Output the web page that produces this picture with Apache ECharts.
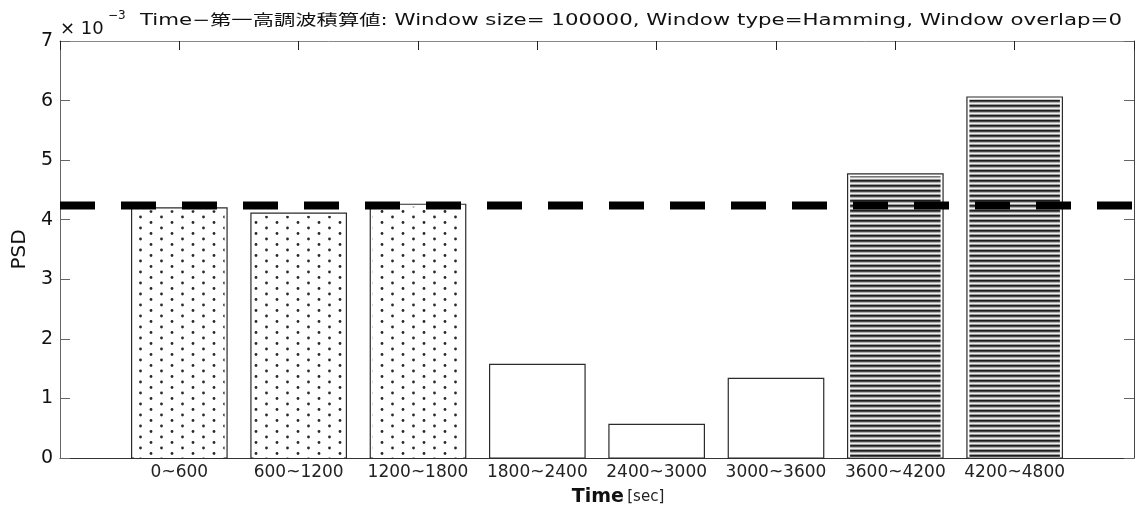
<!DOCTYPE html>
<html>
<head>
<meta charset="utf-8">
<title>PSD</title>
<script src="https://cdn.jsdelivr.net/npm/echarts@6/dist/echarts.min.js"></script>
<style>
  html, body { margin: 0; padding: 0; background: #fff; }
  #chart { width: 1137px; height: 505px; }
</style>
</head>
<body>
<div id="chart"></div>
<script>
// Time windows (seconds) and the first-harmonic PSD per window, in units of 1e-3
const categories = ['0~600', '600~1200', '1200~1800', '1800~2400', '2400~3000', '3000~3600', '3600~4200', '4200~4800'];
const psdValues = [4.20, 4.11, 4.26, 1.57, 0.565, 1.335, 4.77, 6.06];
const thresholdValue = 4.24;
const titleText = 'Time\u2212第一高調波積算値: Window size= 100000, Window type=Hamming, Window overlap=0';

// Fill textures for the bars
function makeDotPattern() {
  const c = document.createElement('canvas');
  c.width = 21; c.height = 11;
  const g = c.getContext('2d');
  g.fillStyle = '#fff';
  g.fillRect(0, 0, c.width, c.height);
  g.fillStyle = '#2a2a2a';
  g.beginPath(); g.arc(4, 2.5, 1.4, 0, Math.PI * 2); g.fill();
  g.beginPath(); g.arc(14.5, 8, 1.4, 0, Math.PI * 2); g.fill();
  return { image: c, repeat: 'repeat' };
}
function makeStripePattern() {
  const c = document.createElement('canvas');
  c.width = 4; c.height = 5;
  const g = c.getContext('2d');
  const rows = ['#1e1e1e', '#4a4a4a', '#b0b0b0', '#f0f0f0', '#9a9a9a'];
  rows.forEach((col, i) => { g.fillStyle = col; g.fillRect(0, i, c.width, 1); });
  return { image: c, repeat: 'repeat' };
}
const dotFill = makeDotPattern();
const stripeFill = makeStripePattern();
function fillFor(i) {
  if (i < 3) return dotFill;
  if (i >= 6) return stripeFill;
  return null;
}

const chart = echarts.init(document.getElementById('chart'));

const titleFont = '15px "DejaVu Sans", "Noto Sans CJK JP", sans-serif';
const meas = document.createElement('canvas').getContext('2d');
meas.font = titleFont;
const titleScale = 982 / meas.measureText(titleText).width;

const barData = psdValues.map((v, i) => [i + 1, v]);

function renderBar(params, api) {
  const x = api.value(0);
  const v = api.value(1);
  const top = api.coord([x, v]);
  const base = api.coord([x, 0]);
  const w = api.size([0.8, 0])[0];
  const left = top[0] - w / 2;
  const h = base[1] - top[1];
  const children = [{
    type: 'rect',
    shape: { x: left, y: top[1], width: w, height: h },
    style: { fill: '#fff', stroke: '#2b2b2b', lineWidth: 1.2 }
  }];
  const f = fillFor(params.dataIndex);
  if (f) {
    children.push({
      type: 'rect',
      shape: { x: left + 2.5, y: top[1] + 2.5, width: w - 5, height: h - 2.5 },
      style: { fill: f }
    });
  }
  return { type: 'group', children };
}

const labelFont = 'DejaVu Sans';

chart.setOption({
  animation: false,
  backgroundColor: '#fff',
  grid: { left: 60, top: 41, width: 1074, height: 417, containLabel: false, outerBoundsMode: 'none' },
  xAxis: [{
    type: 'value', position: 'bottom', min: 0, max: 9, interval: 1,
    axisLine: { show: true, onZero: false, lineStyle: { color: '#333', width: 1 } },
    axisTick: { show: false },
    splitLine: { show: false },
    axisLabel: {
      margin: 6, color: '#222', fontFamily: labelFont, fontSize: 17,
      formatter: v => (Number.isInteger(v) && v >= 1 && v <= categories.length) ? categories[v - 1] : ''
    },
    name: '{t|Time} {u|[sec]}',
    nameLocation: 'middle', nameGap: 30,
    nameTextStyle: {
      padding: [0, 0, 0, 42],
      rich: {
        t: { fontFamily: labelFont, fontSize: 19, fontWeight: 'bold', color: '#111' },
        u: { fontFamily: labelFont, fontSize: 15, color: '#222' }
      }
    }
  }, {
    type: 'value', position: 'top', min: 0, max: 9, interval: 1,
    axisLine: { show: true, onZero: false, lineStyle: { color: '#888', width: 1 } },
    axisTick: { show: true, inside: true, length: 9, lineStyle: { color: '#222' } },
    axisLabel: { show: false },
    splitLine: { show: false }
  }],
  yAxis: [{
    type: 'value', position: 'left', min: 0, max: 7, interval: 1,
    axisLine: { show: true, onZero: false, lineStyle: { color: '#666', width: 1 } },
    axisTick: { show: true, inside: true, length: 10, lineStyle: { color: '#666' } },
    splitLine: { show: false },
    axisLabel: { margin: 7, color: '#111', fontFamily: labelFont, fontSize: 19 },
    name: 'PSD', nameLocation: 'middle', nameGap: 30,
    nameTextStyle: { fontFamily: labelFont, fontSize: 20, color: '#111' }
  }, {
    type: 'value', position: 'right', min: 0, max: 7, interval: 1,
    axisLine: { show: true, onZero: false, lineStyle: { color: '#444', width: 1 } },
    axisTick: { show: true, inside: true, length: 10, lineStyle: { color: '#666' } },
    axisLabel: { show: false },
    splitLine: { show: false }
  }],
  series: [{
    type: 'custom',
    xAxisIndex: 0, yAxisIndex: 0,
    renderItem: renderBar,
    data: barData,
    z: 2
  }, {
    type: 'line',
    xAxisIndex: 0, yAxisIndex: 0,
    data: [[0, thresholdValue], [9, thresholdValue]],
    symbol: 'none',
    lineStyle: { color: '#000', width: 8, type: [35, 26], cap: 'butt' },
    z: 5
  }],
  graphic: [{
    type: 'text', x: 140, y: 21, scaleX: titleScale,
    style: { text: titleText, font: titleFont, fill: '#111', verticalAlign: 'middle' }
  }, {
    type: 'text', x: 60, y: 29,
    style: { text: '\u00d7 10', font: '18px "DejaVu Sans"', fill: '#111', verticalAlign: 'middle' }
  }, {
    type: 'text', x: 108, y: 16,
    style: { text: '\u22123', font: '12px "DejaVu Sans"', fill: '#111', verticalAlign: 'middle' }
  }]
});
</script>
</body>
</html>
